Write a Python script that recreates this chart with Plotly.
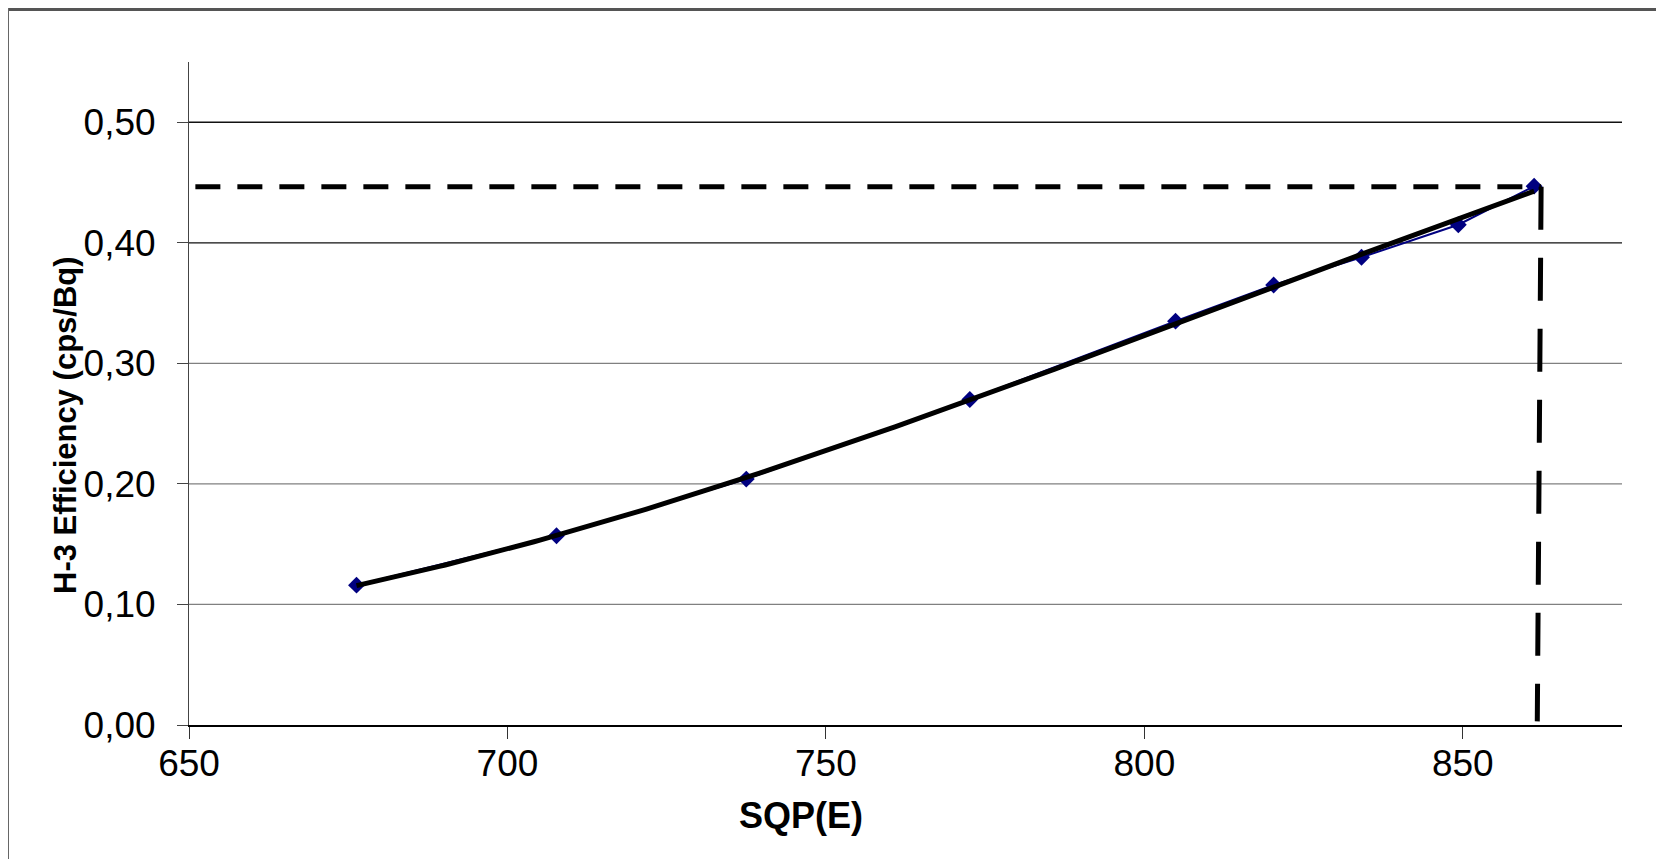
import numpy as np
import plotly.graph_objects as go

# data
sqp = [676.3, 707.7, 737.5, 772.6, 804.9, 820.3, 834.1, 849.3, 861.2]
eff = [0.116, 0.157, 0.204, 0.270, 0.335, 0.365, 0.388, 0.415, 0.447]
target_sqp = 862.3
target_eff = 0.4465
x_ticks = [650, 700, 750, 800, 850]
y_ticks = [0.0, 0.1, 0.2, 0.3, 0.4, 0.5]

W, H = 1664, 859
L, R, T, B = 181, 50, 54, 142
pw, ph = W - L - R, H - T - B

def px(x):
    return (x - L) / pw

def py(y):
    return (H - B - y) / ph

# polynomial trendline through the data
coef = np.polyfit(sqp, eff, 3)
xf = np.linspace(min(sqp), max(sqp), 200)
yf = np.polyval(coef, xf)

fig = go.Figure()
fig.add_trace(go.Scatter(x=sqp, y=eff, mode="lines+markers",
                         line=dict(color="#000080", width=2),
                         marker=dict(symbol="diamond", size=13, color="#000080"),
                         showlegend=False))
fig.add_trace(go.Scatter(x=xf, y=yf, mode="lines",
                         line=dict(color="black", width=5), showlegend=False))
# dashed guide lines
fig.add_trace(go.Scatter(x=[651, target_sqp], y=[target_eff, target_eff], mode="lines",
                         line=dict(color="black", width=5, dash="25px,17px"), showlegend=False))
fig.add_trace(go.Scatter(x=[target_sqp, target_sqp - 0.6], y=[target_eff, 0.003], mode="lines",
                         line=dict(color="black", width=5, dash="43px,28px"), showlegend=False))

shapes = []
for yv in y_ticks[1:]:
    shapes.append(dict(type="line", xref="paper", yref="y", x0=0, x1=1, y0=yv, y1=yv,
                       line=dict(color="#111111" if yv >= 0.4 else "#808080", width=1.3),
                       layer="below"))
# outer frame (top and left edges)
shapes.append(dict(type="line", xref="paper", yref="paper", x0=px(0), x1=px(1700), y0=py(1.5), y1=py(1.5),
                   line=dict(color="#555555", width=3)))
shapes.append(dict(type="line", xref="paper", yref="paper", x0=px(0.5), x1=px(0.5), y0=py(0), y1=py(900),
                   line=dict(color="#666666", width=1)))

font_family = "Liberation Sans, Arial, sans-serif"
fig.update_layout(
    width=W, height=H, autosize=False,
    margin=dict(l=L, r=R, t=T, b=B),
    paper_bgcolor="white", plot_bgcolor="white",
    separators=", ",
    font=dict(family=font_family, color="black", size=37),
    shapes=shapes,
    xaxis=dict(range=[650, 875], tickvals=x_ticks, showgrid=False, zeroline=False,
               showline=True, linecolor="black", linewidth=2,
               ticks="outside", ticklen=12, tickcolor="#333333", tickwidth=1,
               ticklabelstandoff=-7, tickfont=dict(size=37)),
    yaxis=dict(range=[0, 0.55], tickvals=y_ticks, tickformat=".2f", showgrid=False, zeroline=False,
               showline=True, linecolor="#444444", linewidth=1,
               ticks="outside", ticklen=11, tickcolor="#444444", tickwidth=1,
               ticklabelstandoff=14, tickfont=dict(size=37)),
    annotations=[
        dict(text="<b>SQP(E)</b>", xref="paper", yref="paper", x=px(793), y=py(807),
             xanchor="center", yanchor="middle", showarrow=False, font=dict(size=36)),
        dict(text="<b>H-3 Efficiency (cps/Bq)</b>", xref="paper", yref="paper", x=px(57), y=py(417),
             xanchor="center", yanchor="middle", textangle=-90, showarrow=False, font=dict(size=31)),
    ],
)

fig.write_html("out.html")
